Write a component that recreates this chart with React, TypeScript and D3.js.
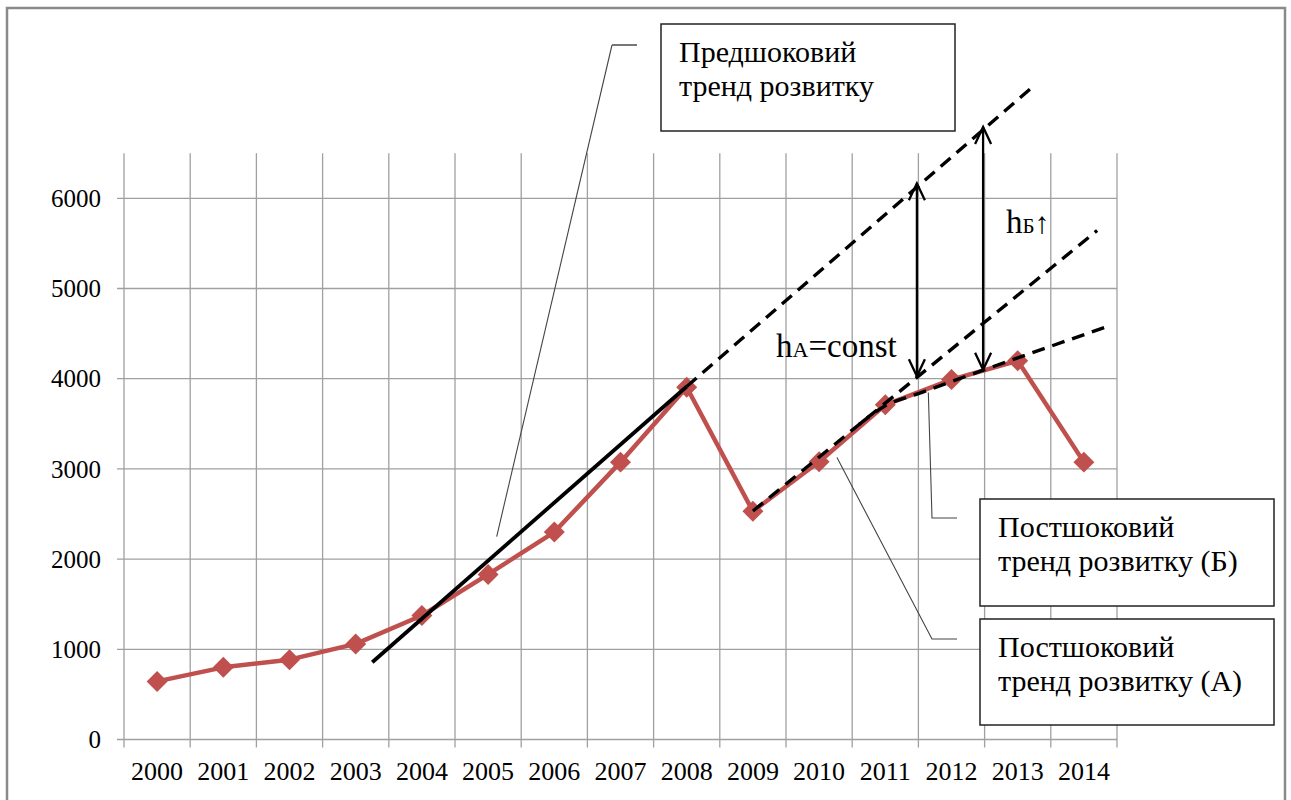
import React from 'react';
import * as d3 from 'd3';

const categories = ['2000','2001','2002','2003','2004','2005','2006','2007','2008','2009','2010','2011','2012','2013','2014'];
const values = [644, 800, 885, 1060, 1375, 1830, 2300, 3075, 3905, 2530, 3080, 3710, 3990, 4200, 3075];
const yTicks = [0, 1000, 2000, 3000, 4000, 5000, 6000];

// trend lines: [category index, value]
const preShockSolid: [number, number][] = [[3.25, 856], [8, 3913]];
const preShockDashed: [number, number][] = [[8, 3913], [13.25, 7250]];
const postShockA: [number, number][] = [[9, 2533], [14.2, 5643]];
const postShockB: [number, number][] = [[10.6, 3490], [11, 3700], [11.5, 3835], [12.5, 4100], [14.32, 4570]];
const gapA = { i: 11.5, top: 6166, bottom: 4028 };
const gapB = { i: 12.5, top: 6790, bottom: 4100 };

const boxPre = ['Предшоковий', 'тренд розвитку'];
const boxB = ['Постшоковий', 'тренд розвитку (Б)'];
const boxA = ['Постшоковий', 'тренд розвитку (А)'];

const W = 1291, H = 800;
const FONT = '"Liberation Serif", "Times New Roman", serif';
const RED = '#C0504D';

export default function App() {
  const x = d3.scaleLinear().domain([-0.5, 14.5]).range([124, 1117]);
  const y = d3.scaleLinear().domain([0, 6500]).range([739.5, 153.2]);
  const line = d3.line<[number, number]>().x(d => x(d[0])).y(d => y(d[1]));
  const curve = d3.line<[number, number]>().x(d => x(d[0])).y(d => y(d[1])).curve(d3.curveMonotoneX);
  const dataLine = d3.line<number>().x((_, i) => x(i)).y(d => y(d));
  const diamond = d3.symbol().type(d3.symbolSquare).size(220)();
  const gridColor = '#a0a0a0';

  const arrow = (xi: number, top: number, bottom: number, key: string) => {
    const ax = x(xi) - 1.5;
    const yt = y(top), yb = y(bottom);
    return (
      <g key={key} stroke="#000" strokeWidth={2.3} fill="none">
        <line x1={ax} y1={yt} x2={ax} y2={yb} />
        <polyline points={`${ax - 8},${yt + 17} ${ax},${yt} ${ax + 8},${yt + 17}`} />
        <polyline points={`${ax - 8},${yb - 17} ${ax},${yb} ${ax + 8},${yb - 17}`} />
      </g>
    );
  };

  const textBox = (bx: number, by: number, bw: number, bh: number, lines: string[], key: string) => (
    <g key={key}>
      <rect x={bx} y={by} width={bw} height={bh} fill="#fff" stroke="#222" strokeWidth={1.5} />
      {lines.map((t, k) => (
        <text key={k} x={bx + 18} y={by + 38 + k * 34} fontFamily={FONT} fontSize={30} fill="#000">{t}</text>
      ))}
    </g>
  );

  return (
    <svg width={W} height={H} style={{ position: 'absolute', left: 0, top: 0, background: '#fff' }}>
      <rect x={7} y={8} width={1278} height={810} fill="#fff" stroke="#8a8a8a" strokeWidth={2.5} />

      {/* gridlines */}
      {yTicks.map(t => (
        <line key={'h' + t} x1={117} x2={x(14.5)} y1={y(t)} y2={y(t)} stroke={gridColor} strokeWidth={1.3} />
      ))}
      {d3.range(0, 16).map(k => (
        <line key={'v' + k} x1={x(k - 0.5)} x2={x(k - 0.5)} y1={y(6500)} y2={y(0) + 8} stroke={gridColor} strokeWidth={1.3} />
      ))}

      {/* axis labels */}
      {yTicks.map(t => (
        <text key={'yl' + t} x={101} y={y(t)} dy="0.35em" textAnchor="end" fontFamily={FONT} fontSize={25} fill="#000">{t}</text>
      ))}
      {categories.map((c, i) => (
        <text key={'xl' + c} x={x(i)} y={780} textAnchor="middle" fontFamily={FONT} fontSize={26} fill="#000">{c}</text>
      ))}

      {/* leader lines */}
      <g stroke="#444" strokeWidth={1.1} fill="none">
        <polyline points={`${x(5.13)},${y(2250)} 612,45`} />
        <polyline points={`957,518 932,518 ${x(11.65)},${y(3847)}`} />
        <polyline points={`957,639 932,639 ${x(10.27)},${y(3126)}`} />
      </g>
      <line x1={612} y1={45} x2={637} y2={45} stroke="#777" strokeWidth={2} />

      {/* data series */}
      <path d={dataLine(values) || ''} fill="none" stroke={RED} strokeWidth={4.5} strokeLinejoin="round" />
      {values.map((v, i) => (
        <path key={'m' + i} d={diamond || ''} transform={`translate(${x(i)},${y(v)}) rotate(45)`} fill={RED} />
      ))}

      {/* trends */}
      <path d={line(preShockSolid) || ''} stroke="#000" strokeWidth={3.8} fill="none" />
      <g stroke="#000" strokeWidth={3.4} fill="none" strokeDasharray="13,8">
        <path d={line(preShockDashed) || ''} />
        <path d={line(postShockA) || ''} />
        <path d={curve(postShockB) || ''} />
      </g>

      {arrow(gapA.i, gapA.top, gapA.bottom, 'aA')}
      {arrow(gapB.i, gapB.top, gapB.bottom, 'aB')}

      <text x={776} y={357} fontFamily={FONT} fontSize={33} fill="#000">
        h<tspan fontSize={22}>A</tspan>=const
      </text>
      <text x={1006} y={233} fontFamily={FONT} fontSize={33} fill="#000">
        h<tspan fontSize={21}>Б</tspan><tspan fontSize={30}>↑</tspan>
      </text>

      {textBox(661, 24, 294, 107, boxPre, 'b1')}
      {textBox(980, 499, 294, 107, boxB, 'b2')}
      {textBox(980, 619, 294, 106, boxA, 'b3')}
    </svg>
  );
}
